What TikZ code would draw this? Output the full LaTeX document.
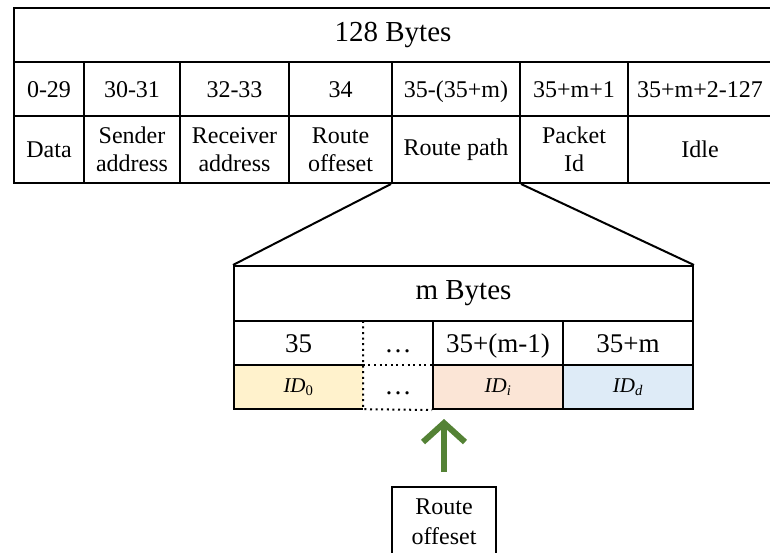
\documentclass[tikz,border=0pt]{standalone}
\usepackage{fontspec}
\setmainfont{Liberation Serif}
\usetikzlibrary{arrows.meta}
\definecolor{idzero}{HTML}{FFF2CC}
\definecolor{idmid}{HTML}{FBE5D6}
\definecolor{idlast}{HTML}{DEEBF7}
\definecolor{arrgreen}{HTML}{548235}
\tikzset{
  rule/.style={line width=2pt},
  digits/.style={text height=#1, text depth=0pt},
  cell/.style={rule, draw, inner sep=0pt, align=center, font=\fontsize{24}{28}\selectfont},
  slot/.style={inner sep=0pt, align=center, font=\fontsize{27}{30}\selectfont},
  idcell/.style={slot, font=\fontsize{21}{24}\selectfont},
  dots/.style={line width=2pt, dash pattern=on 2pt off 3.6pt},
  arr/.style={line width=6pt, color=arrgreen, -{Straight Barb[length=19pt,width=42pt]}}
}
\newcommand{\idtxt}[1]{\textit{ID}\textsubscript{#1}}
\begin{document}
\begin{tikzpicture}[x=1pt,y=-1pt]
  \useasboundingbox (0,0) rectangle (770,553);
  % packet of 128 bytes
  \node[cell, minimum width=758pt, minimum height=54pt, font=\fontsize{29}{32}\selectfont] (all) at (393,35) {128 Bytes};
  \foreach \x/\w/\r/\f [count=\i] in {49/70/0-29/Data, 132/96/30-31/{Sender\\address},
      234.5/109/32-33/{Receiver\\address}, 340.5/103/34/{Route\\offeset},
      456/128/35-(35+m)/Route path, 574/108/35+m+1/{Packet\\Id}, 700/144/35+m+2-127/Idle} {
    \node[cell, digits=16.2pt, minimum width=\w pt, minimum height=54pt] (r\i) at (\x,89) {\r};
    \node[cell, minimum width=\w pt, minimum height=67pt] (f\i) at (\x,149.5) {\f};
  }
  % route path, m bytes
  \node[cell, minimum width=459pt, minimum height=55pt, font=\fontsize{29}{32}\selectfont] (mb) at (463.5,293.5) {m Bytes};
  \draw[rule] (f5.south west) -- (mb.north west);
  \draw[rule] (f5.south east) -- (mb.north east);
  \node[slot, digits=18.2pt, minimum width=129pt, minimum height=44pt] (k1) at (298.5,343) {35};
  \node[slot, digits=18.2pt, minimum width=70pt, minimum height=44pt] (k2) at (398,343) {\dots};
  \node[slot, digits=18.2pt, draw, rule, minimum width=130pt, minimum height=44pt] (k3) at (498,343) {35+(m-1)};
  \node[slot, digits=18.2pt, draw, rule, minimum width=130pt, minimum height=44pt] (k4) at (628,343) {35+m};
  \node[idcell, fill=idzero, minimum width=129pt, minimum height=44pt] (z1) at (298.5,387) {\idtxt{0}};
  \node[slot, digits=18.2pt, minimum width=70pt, minimum height=44pt] (z2) at (398,385) {\dots};
  \node[idcell, draw, rule, fill=idmid, minimum width=130pt, minimum height=44pt] (z3) at (498,387) {\idtxt{\textit{i}}};
  \node[idcell, draw, rule, fill=idlast, minimum width=130pt, minimum height=44pt] (z4) at (628,387) {\idtxt{\textit{d}}};
  \draw[rule] (k1.north east) -| (z1.south west) -- (z1.south east);
  \draw[rule] (k1.south west) -- (k1.south east);
  \draw[dots] (k1.north east) -- (z1.south east) -- (z3.south west);
  \draw[dots] (k2.south west) -- (k2.south east);
  % route offset pointer
  \node[cell, anchor=north, minimum width=104pt, minimum height=70pt, font=\fontsize{24}{30}\selectfont] (ro) at (444,486) {Route\\offeset};
  \draw[arr, shorten <=14pt, shorten >=9pt] (ro.north) -- (ro.north |- z3.south);
\end{tikzpicture}
\end{document}
